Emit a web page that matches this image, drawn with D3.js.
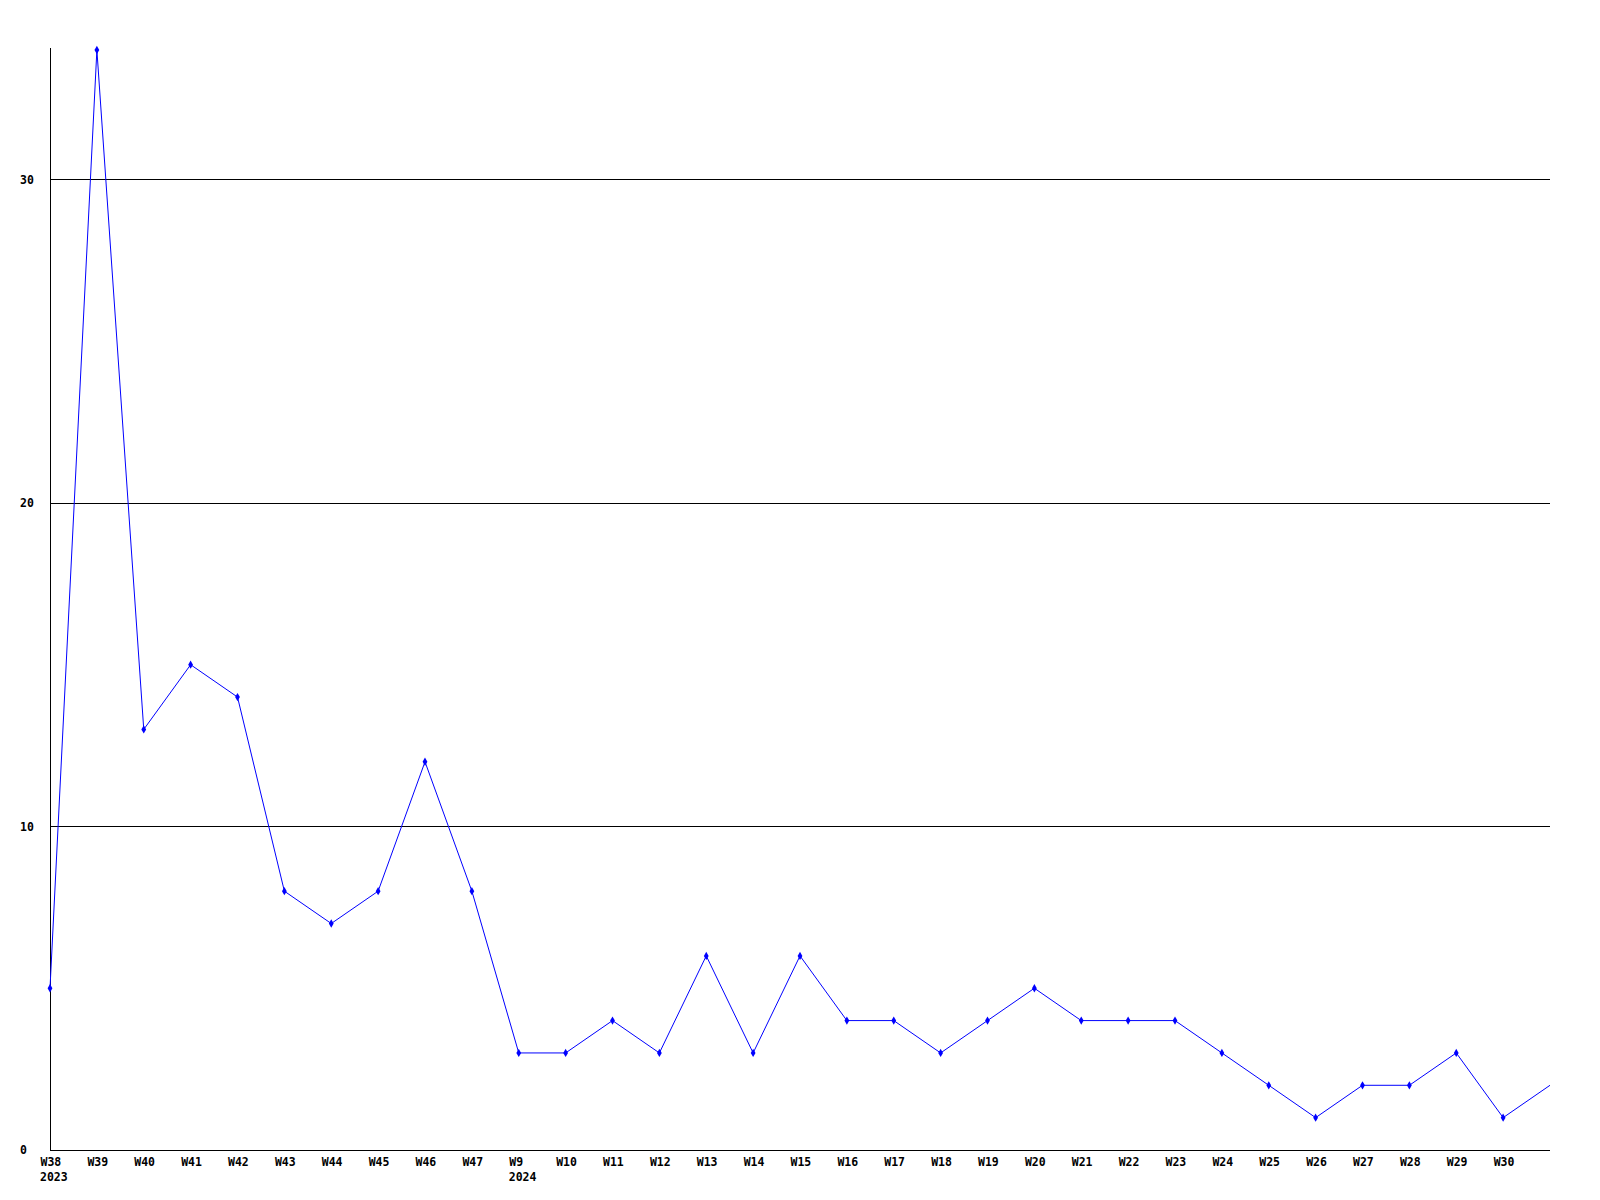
<!DOCTYPE html>
<html>
<head>
<meta charset="utf-8">
<script src="https://cdn.jsdelivr.net/npm/d3@7"></script>
<style>
  body { margin: 0; background: #fff; }
  text { font-family: "DejaVu Sans Mono", monospace; font-weight: bold; font-size: 11.5px; fill: #000; }
</style>
</head>
<body>
<div id="chart"></div>
<script>
// Weekly counts, Sept 2023 -> July 2024
const weeks = ["W38", "W39", "W40", "W41", "W42", "W43", "W44", "W45", "W46", "W47",
    "W9", "W10", "W11", "W12", "W13", "W14", "W15", "W16", "W17", "W18", "W19", "W20",
    "W21", "W22", "W23", "W24", "W25", "W26", "W27", "W28", "W29", "W30", "W31"];
const counts = [5, 34, 13, 15, 14, 8, 7, 8, 12, 8,
    3, 3, 4, 3, 6, 3, 6, 4, 4, 3, 4, 5,
    4, 4, 4, 3, 2, 1, 2, 2, 3, 1, 2];
const yearLabels = [{ week: "W38", year: "2023" }, { week: "W9", year: "2024" }];
const yTicks = [0, 10, 20, 30];

const margin = { top: 50, right: 50, bottom: 50, left: 50 },
    fullWidth = 1600,
    fullHeight = 1200,
    width = fullWidth - margin.left - margin.right,
    height = fullHeight - margin.top - margin.bottom;

const svg = d3.select("#chart")
    .append("svg")
    .attr("width", fullWidth)
    .attr("height", fullHeight)
    .append("g")
    .attr("transform", "translate(" + margin.left + "," + margin.top + ")");

const x = d3.scalePoint()
    .domain(weeks)
    .range([0, width]);

const y = d3.scaleLinear()
    .domain([0, 34])
    .range([height, 0]);

// Grid lines
svg.selectAll(".grid")
    .data(yTicks.filter(d => d > 0))
    .join("line")
    .attr("class", "grid")
    .attr("x1", 0)
    .attr("x2", width)
    .attr("y1", d => Math.round(y(d)) + 0.5)
    .attr("y2", d => Math.round(y(d)) + 0.5)
    .attr("stroke", "#000")
    .attr("shape-rendering", "crispEdges");

// Axis lines
svg.append("line")
    .attr("x1", 0.5).attr("x2", 0.5)
    .attr("y1", -2).attr("y2", height + 0.5)
    .attr("stroke", "#000")
    .attr("shape-rendering", "crispEdges");
svg.append("line")
    .attr("x1", 0).attr("x2", width)
    .attr("y1", height + 0.5).attr("y2", height + 0.5)
    .attr("stroke", "#000")
    .attr("shape-rendering", "crispEdges");

// y-axis labels
const yAxis = svg.append("g")
    .call(d3.axisLeft(y).tickValues(yTicks).tickSize(0).tickFormat(d3.format("d")));
yAxis.select(".domain").remove();
yAxis.attr("font-family", null).attr("font-size", null);
yAxis.selectAll("text")
    .attr("x", -30)
    .attr("text-anchor", "start");

// x-axis labels (last point has no label)
const xAxis = svg.append("g")
    .attr("transform", `translate(0, ${height})`)
    .call(d3.axisBottom(x).tickValues(weeks.slice(0, -1)).tickSize(0));
xAxis.select(".domain").remove();
xAxis.attr("font-family", null).attr("font-size", null);
xAxis.selectAll("text")
    .attr("x", -10)
    .attr("y", 8)
    .attr("dy", "0.71em")
    .attr("text-anchor", "start");

// Year labels
svg.selectAll(".year")
    .data(yearLabels)
    .join("text")
    .attr("class", "year")
    .attr("x", d => x(d.week) - 10)
    .attr("y", height + 23)
    .attr("dy", "0.71em")
    .text(d => d.year);

// Line
const line = d3.line()
    .x((d, i) => x(weeks[i]))
    .y(d => y(d));

svg.append("path")
    .datum(counts)
    .attr("fill", "none")
    .attr("stroke", "#0000ff")
    .attr("stroke-width", 1)
    .attr("d", line);

// Markers (none on the trailing point)
svg.selectAll(".pt")
    .data(counts.slice(0, -1))
    .join("path")
    .attr("class", "pt")
    .attr("transform", (d, i) => `translate(${x(weeks[i])},${y(d)})`)
    .attr("d", d3.symbol(d3.symbolDiamond, 20))
    .attr("fill", "#0000ff");
</script>
</body>
</html>
